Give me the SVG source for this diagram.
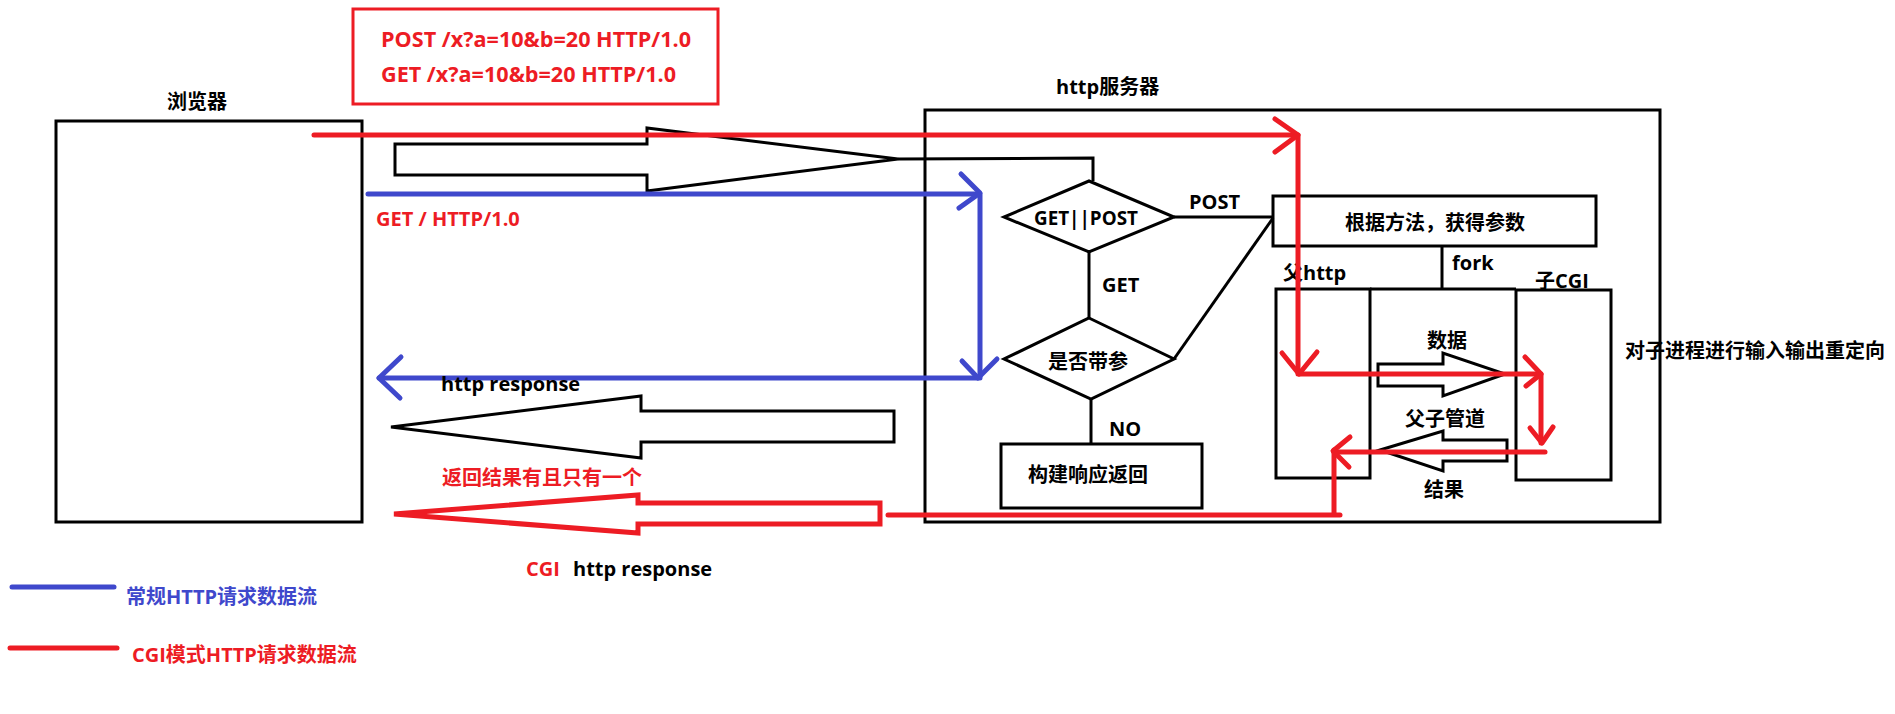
<svg xmlns="http://www.w3.org/2000/svg" width="1895" height="714" viewBox="0 0 1895 714">
<style>
.bk{fill:none;stroke:#000;stroke-width:3;stroke-linejoin:miter}
.rd{fill:none;stroke:#ED1C24;stroke-width:5;stroke-linecap:round;stroke-linejoin:round}
.bl{fill:none;stroke:#3F48CC;stroke-width:5;stroke-linecap:round;stroke-linejoin:round}
text{font-family:"Open Sans","Noto Sans CJK SC",sans-serif;font-weight:bold;font-size:20px;fill:#000}
.tr{fill:#ED1C24}
.tb{fill:#3F48CC}
.mid{text-anchor:middle}
.big{font-size:21px}
</style>
<rect width="1895" height="714" fill="#fff"/>

<g id="server">
<rect class="bk" x="925" y="110" width="735" height="412"/>
<text x="1056" y="94">http服务器</text>
</g>

<g id="browser">
<rect class="bk" x="56" y="121" width="306" height="401"/>
<text class="mid" x="197" y="109">浏览器</text>
</g>

<g id="request-box">
<rect x="353" y="9" width="365" height="95" fill="none" stroke="#ED1C24" stroke-width="3"/>
<text class="tr big" x="381" y="47" textLength="310" lengthAdjust="spacingAndGlyphs">POST /x?a=10&amp;b=20 HTTP/1.0</text>
<text class="tr big" x="381" y="82" textLength="295" lengthAdjust="spacingAndGlyphs">GET /x?a=10&amp;b=20 HTTP/1.0</text>
</g>

<g id="decision-method">
<polygon class="bk" points="1089,181 1174,217 1089,252 1004,217"/>
<text x="1034" y="225" textLength="104" lengthAdjust="spacingAndGlyphs">GET||POST</text>
</g>

<g id="decision-param">
<polygon class="bk" points="1089,318 1174,359 1091,399 1004,359"/>
<text class="mid" x="1088" y="369">是否带参</text>
</g>

<g id="build-response">
<rect class="bk" x="1001" y="444" width="201" height="64"/>
<text x="1028" y="482">构建响应返回</text>
</g>

<g id="get-params">
<rect class="bk" x="1273" y="196" width="323" height="50"/>
<text class="mid" x="1435" y="230">根据方法，获得参数</text>
</g>

<g id="parent-http">
<rect class="bk" x="1276" y="289" width="94" height="189"/>
<text x="1283" y="280">父http</text>
</g>

<g id="child-cgi">
<rect class="bk" x="1516" y="290" width="95" height="190"/>
<text x="1535" y="288">子CGI</text>
</g>

<g id="connectors">
<polygon class="bk" points="395,144 647,144 647,128 898,159 647,191 647,175 395,175"/>
<polyline class="bk" points="898,159 1093,158 1093,181"/>
<line class="bk" x1="1089" y1="252" x2="1089" y2="318"/>
<line class="bk" x1="1091" y1="399" x2="1091" y2="444"/>
<line class="bk" x1="1174" y1="217" x2="1273" y2="217"/>
<line class="bk" x1="1174" y1="359" x2="1273" y2="218"/>
<line class="bk" x1="1442" y1="246" x2="1442" y2="289"/>
<line class="bk" x1="1370" y1="289" x2="1516" y2="289"/>
<polygon class="bk" points="1378,364 1443,364 1443,353 1505,374 1443,396 1443,386 1378,386"/>
<polygon class="bk" points="1380,450 1443,431 1443,440 1507,440 1507,461 1443,461 1443,471"/>
<polygon class="bk" points="391,427 641,396 641,411 894,411 894,442 641,442 641,458"/>
<polygon fill="none" stroke="#ED1C24" stroke-width="5" stroke-linejoin="miter" points="394,514 638,495 638,503 880,503 880,524 638,524 638,533"/>

<polyline class="bl" points="368,194 980,194 980,378 379,378"/>
<polyline class="bl" points="961,174 980,193 959,208"/>
<polyline class="bl" points="962,361 978,378 997,359"/>
<polyline class="bl" points="401,357 379,378 400,398"/>

<polyline class="rd" points="314,135 1298,135 1298,374 1541,374 1541,443"/>
<polyline class="rd" points="1275,119 1298,135 1275,152"/>
<polyline class="rd" points="1282,353 1299,374 1317,352"/>
<polyline class="rd" points="1525,357 1541,374 1526,386"/>
<polyline class="rd" points="1530,428 1542,443 1553,427"/>
<line class="rd" x1="1545" y1="452" x2="1334" y2="452"/>
<polyline class="rd" points="1350,437 1333,451 1349,467"/>
<line class="rd" x1="1334" y1="450" x2="1334" y2="513"/>
<line class="rd" x1="1340" y1="515" x2="888" y2="515"/>
</g>

<g id="labels">
<text class="tr" x="376" y="226">GET / HTTP/1.0</text>
<text x="1189" y="209">POST</text>
<text x="1102" y="292">GET</text>
<text x="1109" y="436">NO</text>
<text x="1452" y="270">fork</text>
<text x="1427" y="348">数据</text>
<text x="1405" y="426">父子管道</text>
<text x="1424" y="497">结果</text>
<text x="1625" y="358">对子进程进行输入输出重定向</text>
<text x="441" y="391">http response</text>
<text class="tr" x="442" y="485">返回结果有且只有一个</text>
<text x="526" y="576"><tspan class="tr">CGI</tspan><tspan x="573">http response</tspan></text>
</g>

<g id="legend">
<line class="bl" x1="12" y1="587" x2="114" y2="587"/>
<text class="tb" x="126" y="604">常规HTTP请求数据流</text>
<line class="rd" x1="10" y1="648" x2="117" y2="648"/>
<text class="tr" x="132" y="662">CGI模式HTTP请求数据流</text>
</g>
</svg>
